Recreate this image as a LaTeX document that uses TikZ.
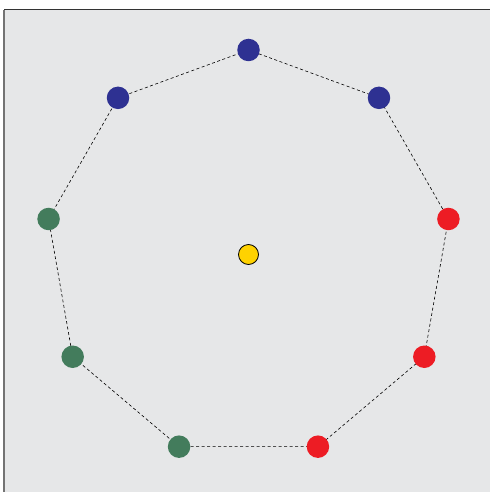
\documentclass[tikz,border=0pt]{standalone}
\usetikzlibrary{calc}
\definecolor{bgc}{HTML}{E6E7E8}
\definecolor{bluec}{HTML}{2E3192}
\definecolor{redc}{HTML}{ED1C24}
\definecolor{greenc}{HTML}{437C5C}
\definecolor{yellowc}{HTML}{FFD200}
\tikzset{
  dot/.style={circle,inner sep=0pt,minimum size=22.5pt},
  bdot/.style={dot,fill=bluec},
  rdot/.style={dot,fill=redc},
  gdot/.style={dot,fill=greenc},
  ring/.style={draw=black,line width=0.6pt,dash pattern=on 3pt off 2.5pt}
}
\begin{document}
\begin{tikzpicture}[x=1pt,y=-1pt]
\useasboundingbox (0,0) rectangle (490,492);
\fill[bgc] (4,10) rectangle (490,492);
\draw[line width=1.2pt,black!80] (4,9.6) -- (490,9.6);
\draw[line width=2pt,black!55] (4,10) -- (4,492);
\coordinate (c) at (248.5,254.5);
\foreach \i/\a in {0/90,1/50,2/10,3/-30,4/-70,5/-110,6/-150,7/170,8/130}{
  \coordinate (p\i) at ($(c)+({203*cos(\a)},{-204.5*sin(\a)})$);
}
\draw[ring] (p0)--(p1)--(p2)--(p3)--(p4)--(p5)--(p6)--(p7)--(p8)--cycle;
\node[bdot] (n0) at (p0) {};
\node[bdot] (n1) at (p1) {};
\node[rdot] (n2) at (p2) {};
\node[rdot] (n3) at (p3) {};
\node[rdot] (n4) at (p4) {};
\node[gdot] (n5) at (p5) {};
\node[gdot] (n6) at (p6) {};
\node[gdot] (n7) at (p7) {};
\node[bdot] (n8) at (p8) {};
\node[dot,minimum size=20pt,fill=yellowc,draw=black,line width=0.8pt] (ctr) at (c) {};
\end{tikzpicture}
\end{document}
